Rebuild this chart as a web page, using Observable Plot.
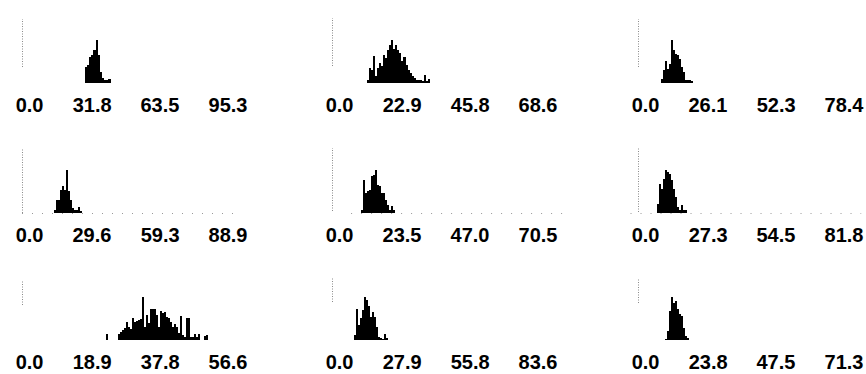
<!DOCTYPE html>
<html>
<head>
<meta charset="utf-8">
<script src="https://cdn.jsdelivr.net/npm/d3@7"></script>
<script src="https://cdn.jsdelivr.net/npm/@observablehq/plot@0.6"></script>
<style>
  html, body { margin: 0; padding: 0; background: #fff; }
  #chart { position: relative; width: 866px; height: 374px; overflow: hidden; background: #fff; }
  #chart > div, #chart > svg { position: absolute; }
</style>
</head>
<body>
<div id="chart"></div>
<script>
// Tick labels of each panel's x axis (0, max/3, 2max/3, max)
const ticks1 = [0, 31.8, 63.5, 95.3];
const ticks2 = [0, 22.9, 45.8, 68.6];
const ticks3 = [0, 26.1, 52.3, 78.4];
const ticks4 = [0, 29.6, 59.3, 88.9];
const ticks5 = [0, 23.5, 47.0, 70.5];
const ticks6 = [0, 27.3, 54.5, 81.8];
const ticks7 = [0, 18.9, 37.8, 56.6];
const ticks8 = [0, 27.9, 55.8, 83.6];
const ticks9 = [0, 23.8, 47.5, 71.3];

// Histogram bins: first bin start, bin width, and bar heights (estimated)
const start1 = 29.4, width1 = 1.0;
const counts1 = [16, 18, 26, 28, 33, 43, 28, 11, 5, 3, 3, 4];

const start2 = 11.8, width2 = 0.68;
const counts2 = [3, 15, 13, 27, 7, 15, 20, 17, 28, 25, 33, 38, 43, 34, 38, 33, 30, 22, 26, 18, 13, 10, 7, 5, 3, 3, 3, 2, 8, 2, 4];

const start3 = 8.8, width3 = 0.76;
const counts3 = [4, 13, 22, 14, 19, 43, 33, 29, 28, 24, 16, 11, 3, 3, 3, 2];

const start4 = 13.9, width4 = 0.87;
const counts4 = [3, 13, 13, 23, 27, 23, 43, 22, 13, 5, 3, 3, 6, 2];

const start5 = 10.1, width5 = 0.695;
const counts5 = [3, 33, 20, 22, 23, 37, 38, 43, 28, 27, 20, 20, 13, 8, 3, 7, 3];

const start6 = 7.6, width6 = 0.8;
const counts6 = [9, 29, 24, 34, 43, 41, 39, 33, 24, 16, 6, 3, 8, 3, 3];

const start7 = 23.3, width7 = 0.555;
const counts7 = [6, 0, 0, 0, 0, 0, 6, 8, 10, 12, 18, 13, 11, 22, 18, 19, 20, 21, 43, 13, 25, 17, 31, 31, 31, 25, 13, 29, 27, 28, 23, 22, 18, 13, 16, 13, 7, 24, 5, 3, 22, 22, 3, 3, 6, 3, 6, 0, 0, 4, 5];

const start8 = 9.1, width8 = 0.82;
const counts8 = [5, 31, 15, 22, 30, 43, 40, 34, 23, 28, 23, 13, 3, 2, 1, 6, 2];

const start9 = 9.4, width9 = 0.694;
const counts9 = [1, 9, 29, 43, 37, 39, 31, 26, 24, 12, 4, 2];

// Faint vertical axis extent (in bar-height units) for each panel
const axisLow  = [16, 17, 16, 0, 2, 1, 35, 38, 37];
const axisHigh = [64, 65, 64, 65, 65, 66, 60, 62, 61];

// Faint dotted baseline extent (x values) for the middle row panels
const baseFrom = [null, null, null, 0, 6.6, -3, null, null, null];
const baseTo   = [null, null, null, 94, 81.3, 89.5, null, null, null];

const panels = [
  [ticks1, start1, width1, counts1],
  [ticks2, start2, width2, counts2],
  [ticks3, start3, width3, counts3],
  [ticks4, start4, width4, counts4],
  [ticks5, start5, width5, counts5],
  [ticks6, start6, width6, counts6],
  [ticks7, start7, width7, counts7],
  [ticks8, start8, width8, counts8],
  [ticks9, start9, width9, counts9]
];

const colLeft = [0, 310, 616];
const rowTop = [0, 130, 257];
const chart = document.getElementById("chart");

panels.forEach(([ticks, start, w, counts], i) => {
  const bins = counts.map((c, j) => ({x1: start + j * w, x2: start + (j + 1) * w, y: c}));
  const marks = [
    Plot.ruleX([0], {y1: axisLow[i], y2: axisHigh[i], stroke: "#8a8a8a", strokeWidth: 1, strokeDasharray: "1,1.5"}),
    Plot.rectY(bins, {x1: "x1", x2: "x2", y: "y", fill: "#000", inset: 0, shapeRendering: "crispEdges"}),
    Plot.text(ticks, {
      x: d => d,
      text: d => d.toFixed(1),
      frameAnchor: "bottom",
      textAnchor: "end",
      lineAnchor: "top",
      dx: 21,
      dy: 14,
      fill: "#000",
      fontSize: 20,
      fontWeight: "bold"
    })
  ];
  if (baseFrom[i] != null) {
    marks.unshift(Plot.ruleY([0], {x1: baseFrom[i], x2: baseTo[i], stroke: "#999", strokeWidth: 1, strokeDasharray: "1,9"}));
  }
  const svg = Plot.plot({
    width: 252,
    height: 130,
    marginLeft: 22,
    marginRight: 26,
    marginTop: 13,
    marginBottom: 47,
    x: {domain: [0, ticks[3]], axis: null},
    y: {domain: [0, 70], axis: null},
    style: {fontFamily: "'Liberation Sans', Arial, sans-serif", color: "#000", background: "transparent", overflow: "visible"},
    marks
  });
  svg.style.left = colLeft[i % 3] + "px";
  svg.style.top = rowTop[Math.floor(i / 3)] + "px";
  chart.appendChild(svg);
});
</script>
</body>
</html>
